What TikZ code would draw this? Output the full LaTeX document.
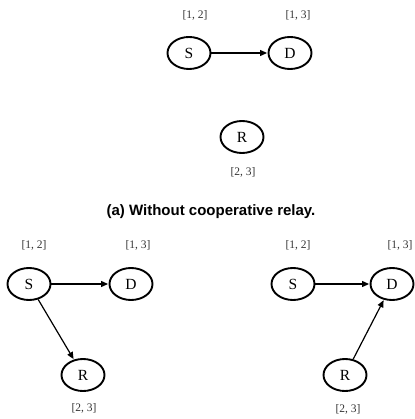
\documentclass[tikz,border=0pt]{standalone}
\usepackage{fontspec}
\setmainfont{Liberation Serif}
\newfontfamily\capfont{Liberation Sans}
\usetikzlibrary{arrows.meta,shapes.geometric}
\tikzset{
  nd/.style={draw, line width=1.9pt, ellipse, minimum width=43pt, minimum height=32pt, inner sep=0pt, font=\fontsize{15.5}{18}\selectfont},
  lbl/.style={font=\fontsize{11.5}{13}\selectfont, text=black!80},
  arr/.style={line width=1.2pt, -{Triangle[length=7pt,width=6pt]}, shorten >=0.5pt},
  captext/.style={font=\capfont\bfseries\fontsize{15}{18}\selectfont}
}
\begin{document}
\begin{tikzpicture}[x=1pt,y=-1pt]
\useasboundingbox (0,0) rectangle (414,419);
% top
\node[nd] (S1) at (189,53) {S};
\node[nd] (D1) at (290,53) {D};
\node[nd] (R1) at (242,137) {R};
\node[lbl] (lS1) at (195,15) {[1, 2]};
\node[lbl] (lD1) at (298,15) {[1, 3]};
\node[lbl] (lR1) at (243,172) {[2, 3]};
\draw[arr] (S1) -- (D1);
\node[captext] (c1) at (211,212) {(a) Without cooperative relay.};
% bottom left
\node[nd] (S2) at (29,284) {S};
\node[nd] (D2) at (131,284) {D};
\node[nd] (R2) at (83,375) {R};
\node[lbl] (lS2) at (34,245) {[1, 2]};
\node[lbl] (lD2) at (138,245) {[1, 3]};
\node[lbl] (lR2) at (84,408) {[2, 3]};
\draw[arr] (S2) -- (D2);
\draw[arr] (S2) -- (R2);
% bottom right
\node[nd] (S3) at (293,284) {S};
\node[nd] (D3) at (392,284) {D};
\node[nd] (R3) at (345,375) {R};
\node[lbl] (lS3) at (298,245) {[1, 2]};
\node[lbl] (lD3) at (400,245) {[1, 3]};
\node[lbl] (lR3) at (348,409) {[2, 3]};
\draw[arr] (S3) -- (D3);
\draw[arr] (R3) -- (D3);
\end{tikzpicture}
\end{document}
